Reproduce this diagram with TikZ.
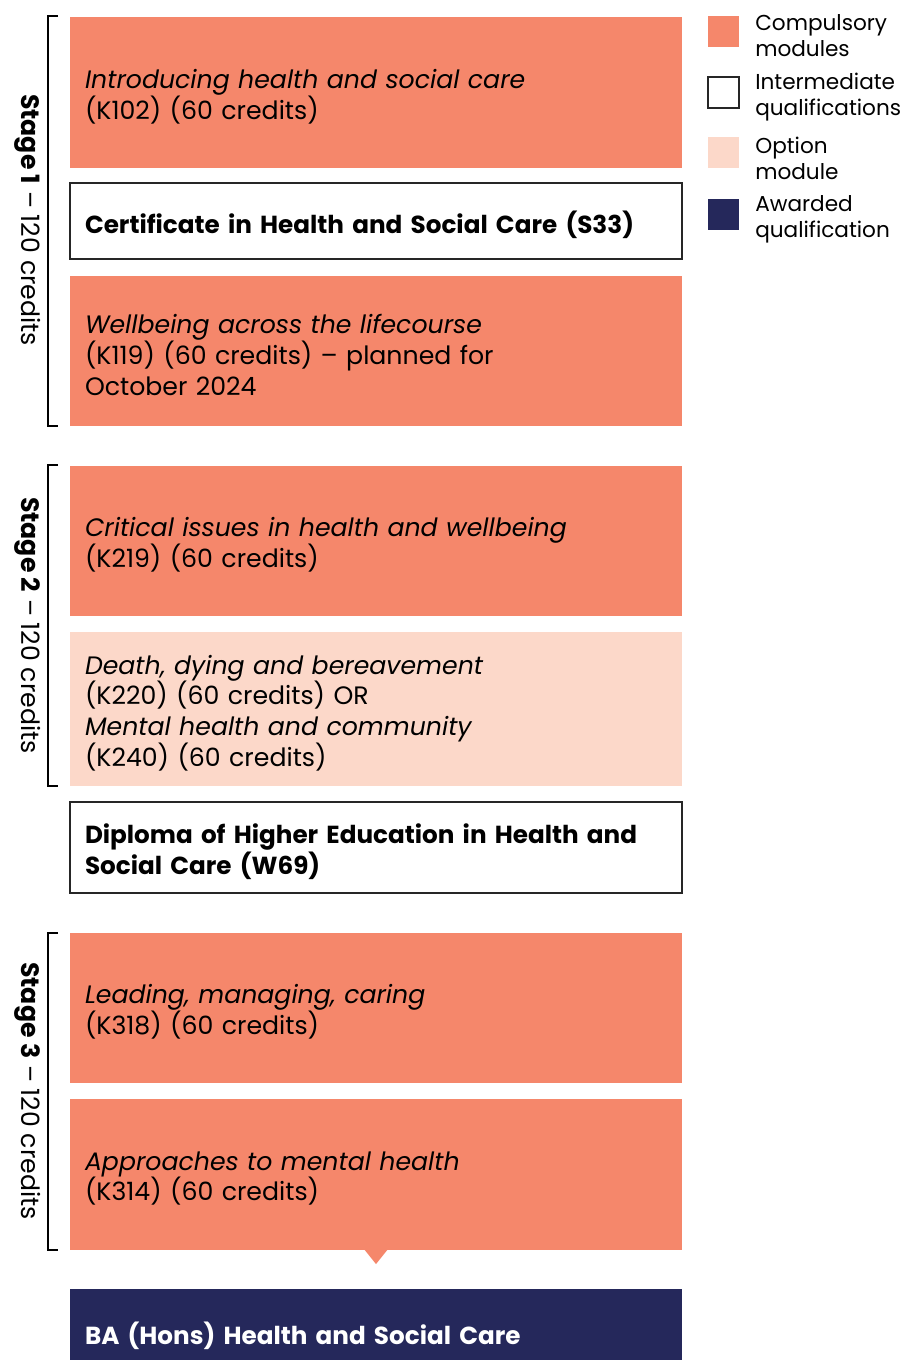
\documentclass[tikz,border=0pt]{standalone}
\usepackage{fontspec}
\setmainfont{Poppins}
\usetikzlibrary{positioning}
\definecolor{compulsory}{HTML}{F5876B}
\definecolor{option}{HTML}{FCD8C9}
\definecolor{awarded}{HTML}{25285B}

\begin{document}
\begin{tikzpicture}[x=0.75pt,y=-0.75pt]
  \tikzstyle{module}=[rectangle, anchor=center, minimum width=459pt, inner sep=0pt]
  \tikzstyle{compbox}=[module, fill=compulsory, minimum height=113pt]
  \tikzstyle{optbox}=[module, fill=option]
  \tikzstyle{qualbox}=[module, fill=white, draw=black!85, line width=0.8pt]
  \tikzstyle{awardbox}=[module, fill=awarded]
  \tikzstyle{boxtext}=[text width=436.5pt, inner sep=0pt, align=left, font=\fontsize{18.9}{22.9}\selectfont]
  \tikzstyle{qualtext}=[boxtext, font=\fontsize{18.5}{22.9}\selectfont\bfseries]
  \tikzstyle{key}=[rectangle, minimum size=23.25pt, inner sep=0pt]
  \tikzstyle{keytext}=[anchor=west, align=left, inner sep=0pt, font=\fontsize{16.2}{19.5}\selectfont]
  \tikzstyle{stage}=[rotate=-90, inner sep=0pt, font=\fontsize{18.9}{22}\selectfont]
  \tikzstyle{bracket}=[draw=black, line width=0.8pt]

  \clip (0,0) rectangle (902,1360);

  % stage 1
  \node[compbox] (K102) at (376,92.5) {};
  \node[boxtext] (K102t) at ([yshift=-3pt]K102.center) {\textit{Introducing health and social care}\\(K102) (60 credits)};
  \node[qualbox, minimum height=57pt] (S33) at (376,221) {};
  \node[qualtext] (S33t) at ([yshift=-3pt]S33.center) {Certificate in Health and Social Care (S33)};
  \node[compbox] (K119) at (376,351) {};
  \node[boxtext] (K119t) at ([yshift=-3pt]K119.center) {\textit{Wellbeing across the lifecourse}\\(K119) (60 credits) -- planned for\\October 2024};

  % stage 2
  \node[compbox] (K219) at (376,541) {};
  \node[boxtext] (K219t) at ([yshift=-3pt]K219.center) {\textit{Critical issues in health and wellbeing}\\(K219) (60 credits)};
  \node[optbox, minimum height=115.5pt] (K220) at (376,709) {};
  \node[boxtext] (K220t) at ([yshift=-3pt]K220.center) {\textit{Death, dying and bereavement}\\(K220) (60 credits) OR\\\textit{Mental health and community}\\(K240) (60 credits)};
  \node[qualbox, minimum height=68.25pt] (W69) at (376,847.5) {};
  \node[qualtext] (W69t) at ([yshift=-3pt]W69.center) {Diploma of Higher Education in Health and\\Social Care (W69)};

  % stage 3
  \node[compbox] (K318) at (376,1008) {};
  \node[boxtext] (K318t) at ([yshift=-3pt]K318.center) {\textit{Leading, managing, caring}\\(K318) (60 credits)};
  \node[compbox] (K314) at (376,1174.5) {};
  \node[boxtext] (K314t) at ([yshift=-3pt]K314.center) {\textit{Approaches to mental health}\\(K314) (60 credits)};
  \fill[compulsory] (K314.south) ++(-12,-1) -- ++(12,15) -- ++(12,-15) -- cycle;
  \node[awardbox, minimum height=64.5pt] (BA) at (376,1332) {};
  \node[qualtext, text=white] (BAt) at ([yshift=-3pt]BA.center) {BA (Hons) Health and Social Care};

  % brackets
  \draw[bracket] (58,16) -- (48,16) -- (48,426) -- (58,426);
  \draw[bracket] (58,465) -- (48,465) -- (48,786) -- (58,786);
  \draw[bracket] (58,933) -- (48,933) -- (48,1250) -- (58,1250);
  \node[stage] (stage1) at (28,220) {\textbf{Stage 1} -- 120 credits};
  \node[stage] (stage2) at (28,625.5) {\textbf{Stage 2} -- 120 credits};
  \node[stage] (stage3) at (28,1091) {\textbf{Stage 3} -- 120 credits};

  % legend
  \node[key, fill=compulsory] (key1) at (723.5,31) {};
  \node[key, fill=white, draw=black!85, line width=0.8pt] (key2) at (723.5,92.5) {};
  \node[key, fill=option] (key3) at (723.5,152.5) {};
  \node[key, fill=awarded] (key4) at (723.5,214.5) {};
  \node[keytext] (lab1) at (755,36) {Compulsory\\modules};
  \node[keytext] (lab2) at (755,97) {Intermediate\\qualifications};
  \node[keytext] (lab3) at (755,158) {Option\\module};
  \node[keytext] (lab4) at (755,219.5) {Awarded\\qualification};
\end{tikzpicture}
\end{document}
